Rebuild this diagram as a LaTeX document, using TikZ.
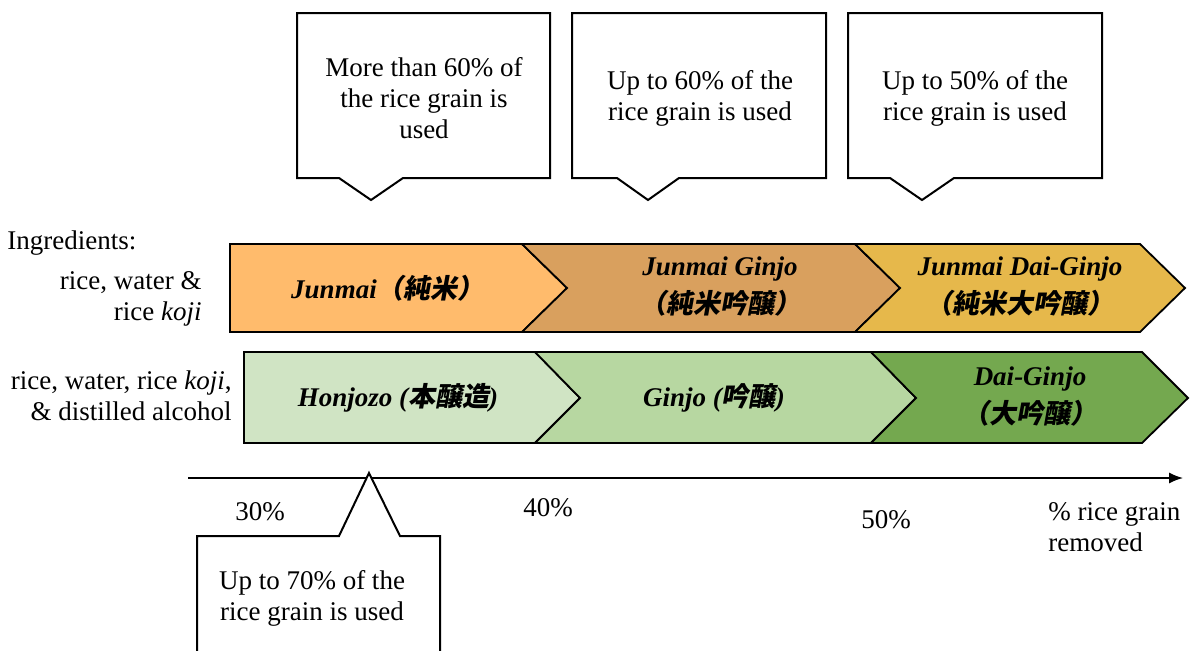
\documentclass[tikz,border=0pt]{standalone}
\usepackage{fontspec}
\setmainfont{Liberation Serif}
\newfontfamily\cjk[FakeSlant=0.18]{Noto Sans CJK JP}
\usetikzlibrary{arrows.meta}
\definecolor{cJun}{HTML}{FFBB6C}
\definecolor{cJunG}{HTML}{D9A05E}
\definecolor{cJunDG}{HTML}{E6B84B}
\definecolor{cHon}{HTML}{D0E4C4}
\definecolor{cGin}{HTML}{B7D7A1}
\definecolor{cDG}{HTML}{74A84F}
\tikzset{
  chev/.style={draw=black, line width=0.9pt, line join=miter},
  callbox/.style={draw=black, line width=1pt, fill=white, line join=miter},
  lbl/.style={font=\fontsize{13.5}{19}\selectfont\bfseries\itshape, align=center, inner sep=0pt},
  txt/.style={font=\fontsize{13.5}{15.5}\selectfont, align=center, inner sep=0pt},
  rtxt/.style={font=\fontsize{13.5}{15.5}\selectfont, align=right, inner sep=0pt},
}
\newcommand{\jp}[1]{{\cjk\fontsize{13.5}{19}\selectfont #1}}
\begin{document}
\begin{tikzpicture}[x=0.5pt,y=-0.5pt]
\useasboundingbox (0,0) rectangle (1196,650);
\clip (0,0) rectangle (1196,650);
% top callouts
\draw[callbox] (297,13) -- (550,13) -- (550,178) -- (403,178) -- (371,200) -- (339,178) -- (297,178) -- cycle;
\node[txt] (c1) at (424,98) {More than 60\% of\\the rice grain is\\used};
\draw[callbox] (572,13) -- (826,13) -- (826,178) -- (679,178) -- (648,200) -- (617,178) -- (572,178) -- cycle;
\node[txt] (c2) at (700,98) {Up to 60\% of the\\rice grain is used};
\draw[callbox] (848,13) -- (1102,13) -- (1102,178) -- (954,178) -- (922,200) -- (890,178) -- (848,178) -- cycle;
\node[txt] (c3) at (975,98) {Up to 50\% of the\\rice grain is used};
% left labels
\node[txt, anchor=west] (ing) at (7,243) {Ingredients:};
\node[rtxt, anchor=east] (ing1) at (202,299) {rice, water \&\\rice \textit{koji}};
\node[rtxt, anchor=east] (ing2) at (232,396) {rice, water, rice \textit{koji},\\\& distilled alcohol};
% top chevrons
\draw[chev, fill=cJun] (230,244) -- (522,244) -- (567,288) -- (522,332) -- (230,332) -- cycle;
\draw[chev, fill=cJunG] (522,244) -- (855,244) -- (900,288) -- (855,332) -- (522,332) -- (567,288) -- cycle;
\draw[chev, fill=cJunDG] (855,244) -- (1140,244) -- (1185,288) -- (1140,332) -- (855,332) -- (900,288) -- cycle;
\node[lbl] (jun) at (388,288) {Junmai\jp{（純米）}};
\node[lbl] (jung) at (720,287) {Junmai Ginjo\\\jp{（純米吟醸）}};
\node[lbl] (jundg) at (1020,287) {Junmai Dai-Ginjo\\\jp{（純米大吟醸）}};
% bottom chevrons
\draw[chev, fill=cHon] (244,352) -- (535,352) -- (580,398) -- (535,443) -- (244,443) -- cycle;
\draw[chev, fill=cGin] (535,352) -- (871,352) -- (916,398) -- (871,443) -- (535,443) -- (580,398) -- cycle;
\draw[chev, fill=cDG] (871,352) -- (1142,352) -- (1188,398) -- (1142,443) -- (871,443) -- (916,398) -- cycle;
\node[lbl] (hon) at (398,398) {Honjozo (\jp{本醸造})};
\node[lbl] (gin) at (714,398) {Ginjo (\jp{吟醸})};
\node[lbl] (dg) at (1030,397) {Dai-Ginjo\\\jp{（大吟醸）}};
% axis
\coordinate (ax0) at (188,478);
\coordinate (ax1) at (1183,478);
\draw[line width=0.7pt, -{Latex[length=7pt,width=5.5pt]}] (ax0) -- (ax1);
\node[txt] (p30) at (260,512) {30\%};
\node[txt] (p40) at (548,508) {40\%};
\node[txt] (p50) at (886,520) {50\%};
\node[txt, align=left, anchor=west] (prg) at (1048,527) {\% rice grain\\removed};
% bottom callout
\draw[callbox] (197,700) -- (197,536) -- (339,536) -- (369,473) -- (400,536) -- (440,536) -- (440,700);
\node[txt] (c4) at (312,598) {Up to 70\% of the\\rice grain is used};
\end{tikzpicture}
\end{document}
